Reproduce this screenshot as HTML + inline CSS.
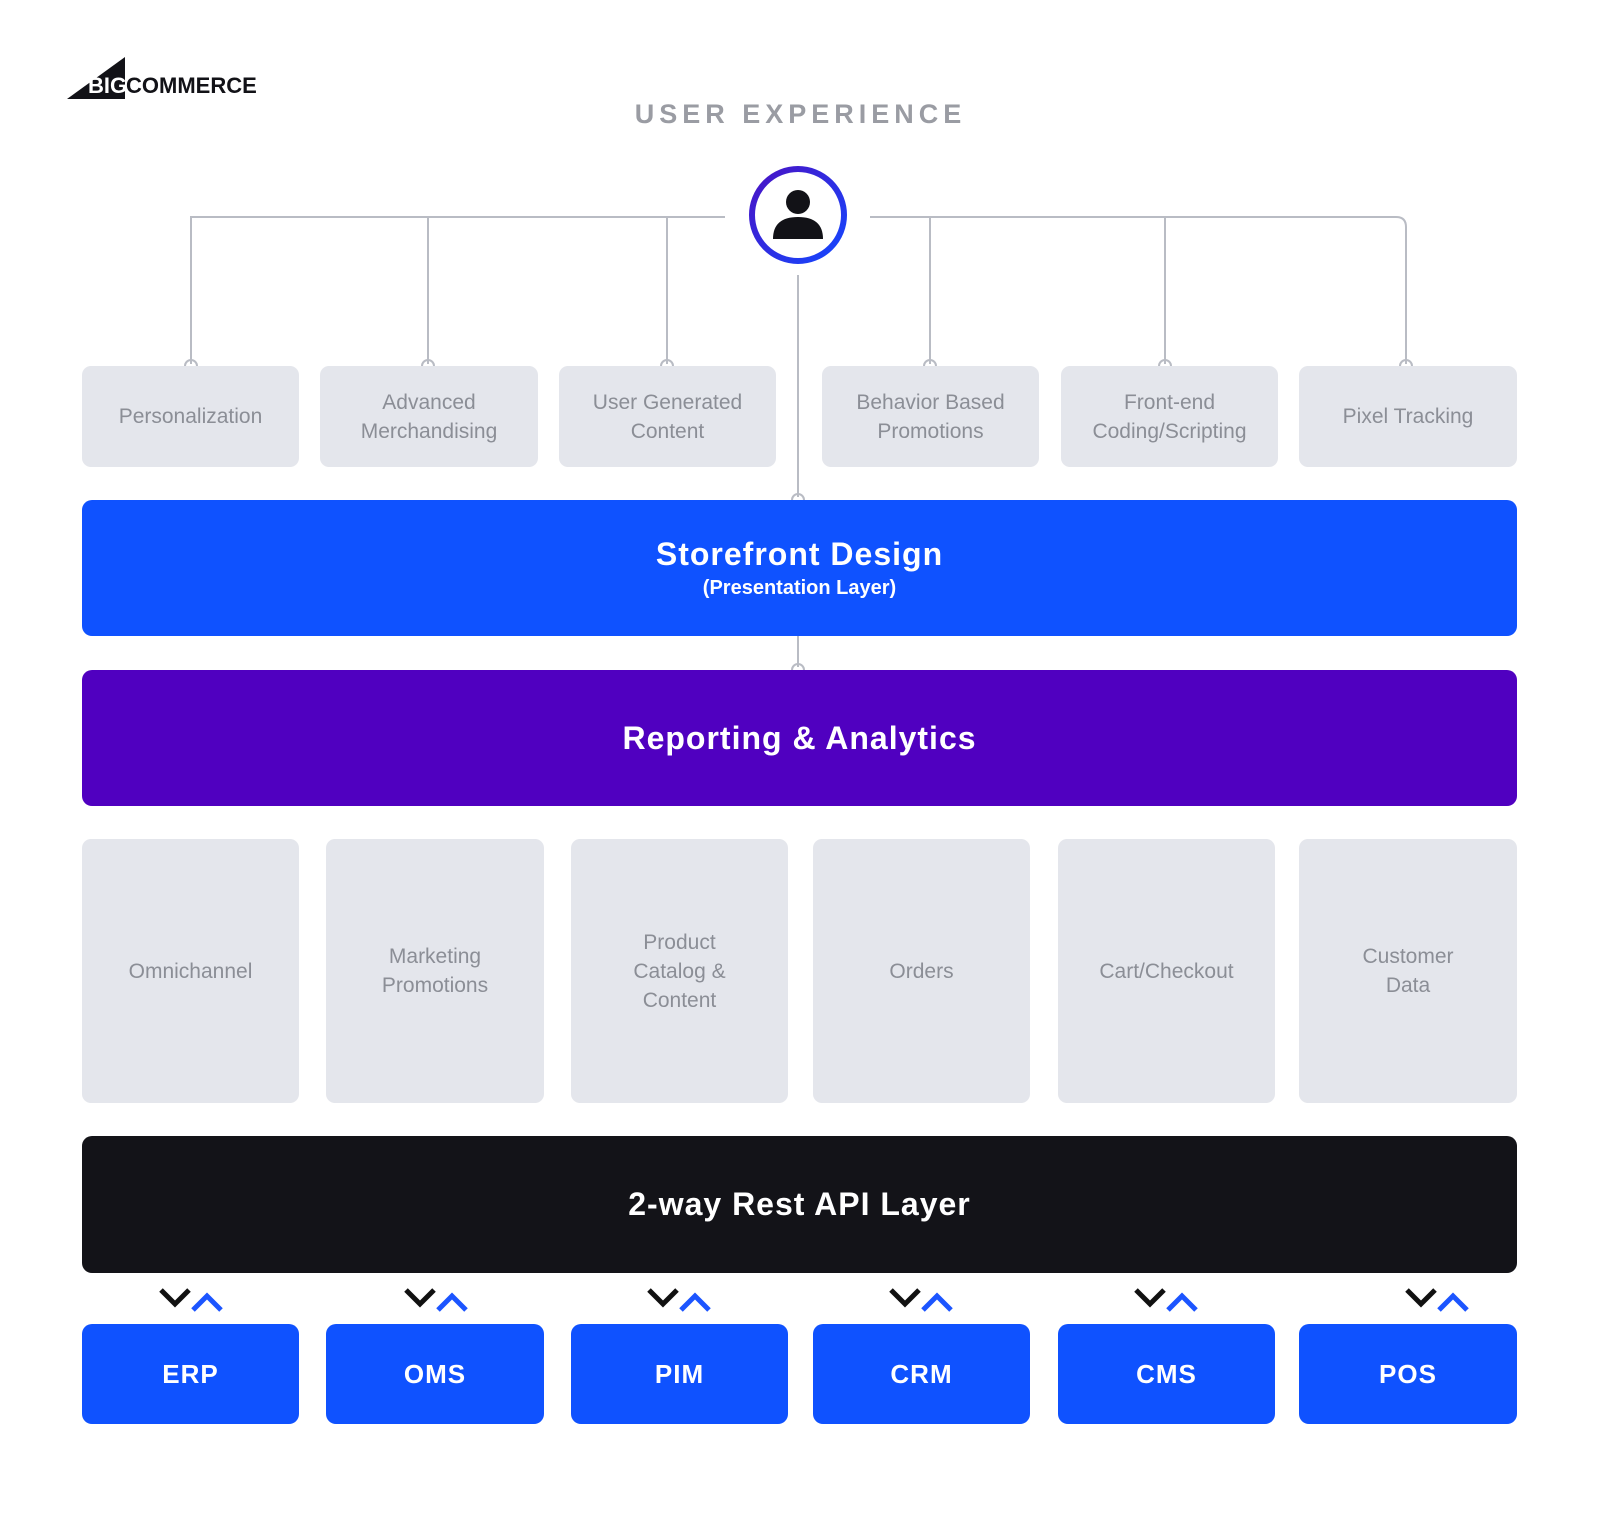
<!DOCTYPE html>
<html><head><meta charset="utf-8"><style>
body{margin:0;width:1600px;height:1527px;background:#fff;position:relative;font-family:"Liberation Sans",sans-serif;overflow:hidden}
.a{position:absolute;box-sizing:border-box}
.g{background:#e4e6ec;border-radius:9px;color:#8b8e96;font-size:21px;line-height:29px;display:flex;align-items:center;justify-content:center;text-align:center}
.band{border-radius:10px;color:#fff;display:flex;flex-direction:column;align-items:center;justify-content:center;font-weight:bold}
.b{background:#0f52ff;border-radius:10px;color:#fff;font-weight:bold;font-size:26px;display:flex;align-items:center;justify-content:center;letter-spacing:1px}
</style></head><body>
<svg class="a" style="left:0;top:0" width="1600" height="1527">
<polygon points="67,99 125,57 125,99" fill="#121217"/>
<text x="88" y="93" font-family="Liberation Sans" font-weight="bold" font-size="22" fill="#fff">BIG</text>
<text x="126" y="93" font-family="Liberation Sans" font-weight="bold" font-size="22" fill="#121217">COMMERCE</text>
<g fill="none" stroke="#b9bcc4" stroke-width="2">
<path d="M191,364 V217 H725"/>
<line x1="428" y1="217" x2="428" y2="364"/>
<line x1="667" y1="217" x2="667" y2="364"/>
<path d="M870,217 H1396 Q1406,217 1406,227 V364"/>
<line x1="930" y1="217" x2="930" y2="364"/>
<line x1="1165" y1="217" x2="1165" y2="364"/>
<line x1="798" y1="275" x2="798" y2="497"/>
<line x1="798" y1="636" x2="798" y2="667"/>
<path d="M185,366 a6,6 0 0 1 12,0"/><path d="M422,366 a6,6 0 0 1 12,0"/><path d="M661,366 a6,6 0 0 1 12,0"/>
<path d="M924,366 a6,6 0 0 1 12,0"/><path d="M1159,366 a6,6 0 0 1 12,0"/><path d="M1400,366 a6,6 0 0 1 12,0"/>
<path d="M792,500 a6,6 0 0 1 12,0"/><path d="M792,670 a6,6 0 0 1 12,0"/>
</g>
<defs><linearGradient id="cg" x1="0" y1="0" x2="1" y2="1"><stop offset="0" stop-color="#4a12c4"/><stop offset="1" stop-color="#1448ff"/></linearGradient></defs>
<circle cx="798" cy="215" r="46" fill="#fff" stroke="url(#cg)" stroke-width="6"/>
<circle cx="798" cy="202" r="12" fill="#121217"/>
<path d="M773,239 Q773,217 798,217 Q823,217 823,239 Z" fill="#121217"/>
</svg>
<div class="a" style="left:0;width:1601px;top:99px;text-align:center;font-size:27px;font-weight:bold;letter-spacing:5px;color:#9a9ca3">USER EXPERIENCE</div>

<div class="a g" style="left:82px;top:366px;width:217px;height:101px">Personalization</div>
<div class="a g" style="left:320px;top:366px;width:218px;height:101px">Advanced<br>Merchandising</div>
<div class="a g" style="left:559px;top:366px;width:217px;height:101px">User Generated<br>Content</div>
<div class="a g" style="left:822px;top:366px;width:217px;height:101px">Behavior Based<br>Promotions</div>
<div class="a g" style="left:1061px;top:366px;width:217px;height:101px">Front-end<br>Coding/Scripting</div>
<div class="a g" style="left:1299px;top:366px;width:218px;height:101px">Pixel Tracking</div>

<div class="a band" style="left:82px;top:500px;width:1435px;height:136px;background:#0f52ff"><div style="font-size:32px;letter-spacing:1px">Storefront Design</div><div style="font-size:20px;margin-top:4px">(Presentation Layer)</div></div>
<div class="a band" style="left:82px;top:670px;width:1435px;height:136px;background:#5000c0;font-size:32px;letter-spacing:1px">Reporting &amp; Analytics</div>

<div class="a g" style="left:82px;top:839px;width:217px;height:264px">Omnichannel</div>
<div class="a g" style="left:326px;top:839px;width:218px;height:264px">Marketing<br>Promotions</div>
<div class="a g" style="left:571px;top:839px;width:217px;height:264px">Product<br>Catalog &amp;<br>Content</div>
<div class="a g" style="left:813px;top:839px;width:217px;height:264px">Orders</div>
<div class="a g" style="left:1058px;top:839px;width:217px;height:264px">Cart/Checkout</div>
<div class="a g" style="left:1299px;top:839px;width:218px;height:264px">Customer<br>Data</div>

<div class="a band" style="left:82px;top:1136px;width:1435px;height:137px;background:#131318;font-size:32px;letter-spacing:1px">2-way Rest API Layer</div>

<svg class="a" style="left:0;top:1282px" width="1600" height="40">
<g stroke-width="5" fill="none">
<g transform="translate(191,18)"><polyline points="-30,-10 -16,4 -2,-10" stroke="#111"/><polyline points="2,10 16,-4 30,10" stroke="#1c55ff"/></g>
<g transform="translate(436,18)"><polyline points="-30,-10 -16,4 -2,-10" stroke="#111"/><polyline points="2,10 16,-4 30,10" stroke="#1c55ff"/></g>
<g transform="translate(679,18)"><polyline points="-30,-10 -16,4 -2,-10" stroke="#111"/><polyline points="2,10 16,-4 30,10" stroke="#1c55ff"/></g>
<g transform="translate(921,18)"><polyline points="-30,-10 -16,4 -2,-10" stroke="#111"/><polyline points="2,10 16,-4 30,10" stroke="#1c55ff"/></g>
<g transform="translate(1166,18)"><polyline points="-30,-10 -16,4 -2,-10" stroke="#111"/><polyline points="2,10 16,-4 30,10" stroke="#1c55ff"/></g>
<g transform="translate(1437,18)"><polyline points="-30,-10 -16,4 -2,-10" stroke="#111"/><polyline points="2,10 16,-4 30,10" stroke="#1c55ff"/></g>
</g></svg>

<div class="a b" style="left:82px;top:1324px;width:217px;height:100px">ERP</div>
<div class="a b" style="left:326px;top:1324px;width:218px;height:100px">OMS</div>
<div class="a b" style="left:571px;top:1324px;width:217px;height:100px">PIM</div>
<div class="a b" style="left:813px;top:1324px;width:217px;height:100px">CRM</div>
<div class="a b" style="left:1058px;top:1324px;width:217px;height:100px">CMS</div>
<div class="a b" style="left:1299px;top:1324px;width:218px;height:100px">POS</div>
</body></html>
